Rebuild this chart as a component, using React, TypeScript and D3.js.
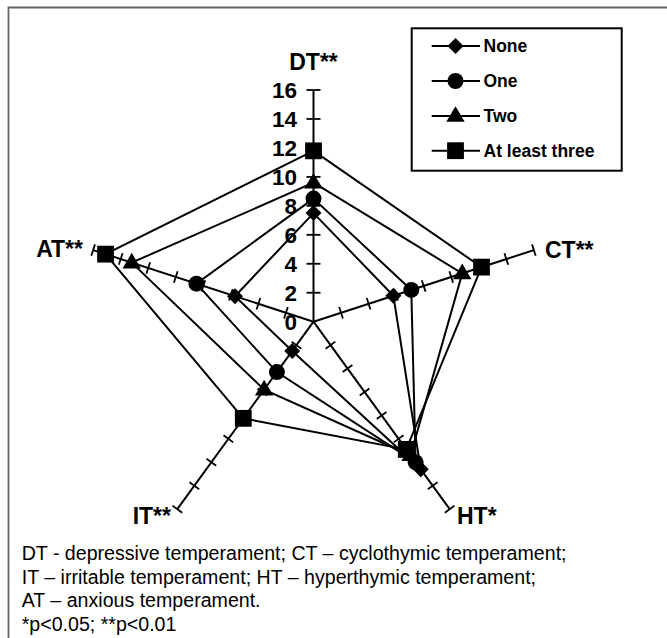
import React from "react";
import * as d3 from "d3";

const axes = ["DT**", "CT**", "HT*", "IT**", "AT**"];
const seriesNames = ["None", "One", "Two", "At least three"];
const noneValues = [7.5, 5.8, 12.6, 2.5, 5.7];
const oneValues = [8.5, 7.1, 12.0, 4.3, 8.5];
const twoValues = [9.6, 10.8, 11.4, 5.8, 13.2];
const threeValues = [11.8, 12.2, 10.9, 8.25, 15.1];
const tickValues = [0, 2, 4, 6, 8, 10, 12, 14, 16];
const footnotes = [
  "DT - depressive temperament; CT \u2013 cyclothymic temperament;",
  "IT \u2013 irritable temperament; HT \u2013 hyperthymic temperament;",
  "AT \u2013 anxious temperament.",
  "*p<0.05; **p<0.01",
];

const series = [noneValues, oneValues, twoValues, threeValues];
const markerTypes = ["diamond", "circle", "triangle", "square"];

const cx = 313.5;
const cy = 321.7;
const R = 231.7;
const FONT = "'Liberation Sans', Arial, Helvetica, sans-serif";

function markerPath(type: string, x: number, y: number): string {
  if (type === "diamond") {
    const h = 8;
    return `M${x},${y - h}L${x + h},${y}L${x},${y + h}L${x - h},${y}Z`;
  }
  if (type === "square") {
    const h = 8.4;
    return `M${x - h},${y - h}H${x + h}V${y + h}H${x - h}Z`;
  }
  if (type === "triangle") {
    const w = 9.2;
    const t = 9.8;
    const b = 5.8;
    return `M${x},${y - t}L${x + w},${y + b}L${x - w},${y + b}Z`;
  }
  const r = 8;
  return `M${x - r},${y}A${r},${r} 0 1,0 ${x + r},${y}A${r},${r} 0 1,0 ${x - r},${y}Z`;
}

export default function App() {
  const rScale = d3.scaleLinear().domain([0, 16]).range([0, R]);
  const angle = d3
    .scalePoint<string>()
    .domain(axes)
    .range([0, (2 * Math.PI * (axes.length - 1)) / axes.length]);
  const pt = (axis: string, v: number): [number, number] => {
    const a = angle(axis) as number;
    const r = rScale(v);
    return [cx + r * Math.sin(a), cy - r * Math.cos(a)];
  };
  const line = d3
    .line<[number, number]>()
    .x((d) => d[0])
    .y((d) => d[1])
    .curve(d3.curveLinearClosed);

  const labelPos: Record<string, { x: number; y: number; anchor: string }> = {
    "DT**": { x: 313.5, y: 70, anchor: "middle" },
    "CT**": { x: 545, y: 258, anchor: "start" },
    "HT*": { x: 457, y: 524, anchor: "start" },
    "IT**": { x: 171, y: 524, anchor: "end" },
    "AT**": { x: 83, y: 257, anchor: "end" },
  };

  const legendRows = [46, 81, 116, 150.7];

  return (
    <svg
      width={667}
      height={638}
      style={{ position: "absolute", left: 0, top: 0, background: "#fff" }}
    >
      <rect x={0} y={0} width={667} height={638} fill="#fff" />
      {/* frame */}
      <path d="M8.5,638V7.5H667" fill="none" stroke="#666" strokeWidth={1.8} />

      {/* axes */}
      {axes.map((ax) => {
        const [x1, y1] = pt(ax, 16);
        const a = angle(ax) as number;
        const px = Math.cos(a);
        const py = Math.sin(a);
        const tl = ax === "DT**" ? 7 : 6;
        return (
          <g key={ax}>
            <line x1={cx} y1={cy} x2={x1} y2={y1} stroke="#000" strokeWidth={2} />
            {tickValues
              .filter((t) => t > 0)
              .map((t) => {
                const [tx, ty] = pt(ax, t);
                return (
                  <line
                    key={t}
                    x1={tx - px * tl}
                    y1={ty - py * tl}
                    x2={tx + px * tl}
                    y2={ty + py * tl}
                    stroke="#000"
                    strokeWidth={1.8}
                  />
                );
              })}
          </g>
        );
      })}

      {/* tick labels on DT */}
      {tickValues.map((t) => {
        const [, ty] = pt("DT**", t);
        return (
          <text
            key={t}
            x={297}
            y={ty}
            dy="0.36em"
            textAnchor="end"
            fontFamily={FONT}
            fontWeight="bold"
            fontSize={22.5}
          >
            {t}
          </text>
        );
      })}

      {/* series polygons */}
      {series.map((vals, i) => (
        <path
          key={i}
          d={line(axes.map((ax, j) => pt(ax, vals[j]))) || ""}
          fill="none"
          stroke="#000"
          strokeWidth={2}
          strokeLinejoin="miter"
        />
      ))}
      {/* markers */}
      {series.map((vals, i) =>
        axes.map((ax, j) => {
          const [x, y] = pt(ax, vals[j]);
          return <path key={`${i}-${j}`} d={markerPath(markerTypes[i], x, y)} fill="#000" />;
        })
      )}

      {/* axis labels */}
      {axes.map((ax) => {
        const p = labelPos[ax];
        return (
          <text
            key={ax}
            x={p.x}
            y={p.y}
            textAnchor={p.anchor as any}
            fontFamily={FONT}
            fontWeight="bold"
            fontSize={23}
          >
            {ax}
          </text>
        );
      })}

      {/* legend */}
      <rect x={411.7} y={28.3} width={210} height={142.4} fill="#fff" stroke="#000" strokeWidth={2} />
      {seriesNames.map((name, i) => {
        const y = legendRows[i];
        return (
          <g key={name}>
            <line x1={431.7} y1={y} x2={480} y2={y} stroke="#000" strokeWidth={2} />
            <path d={markerPath(markerTypes[i], 455.5, y)} fill="#000" />
            <text
              x={483.5}
              y={y}
              dy="0.36em"
              fontFamily={FONT}
              fontWeight="bold"
              fontSize={17.5}
            >
              {name}
            </text>
          </g>
        );
      })}

      {/* footnotes */}
      {footnotes.map((f, i) => (
        <text key={i} x={21.7} y={560 + i * 23.5} fontFamily={FONT} fontSize={19.6}>
          {f}
        </text>
      ))}
    </svg>
  );
}
